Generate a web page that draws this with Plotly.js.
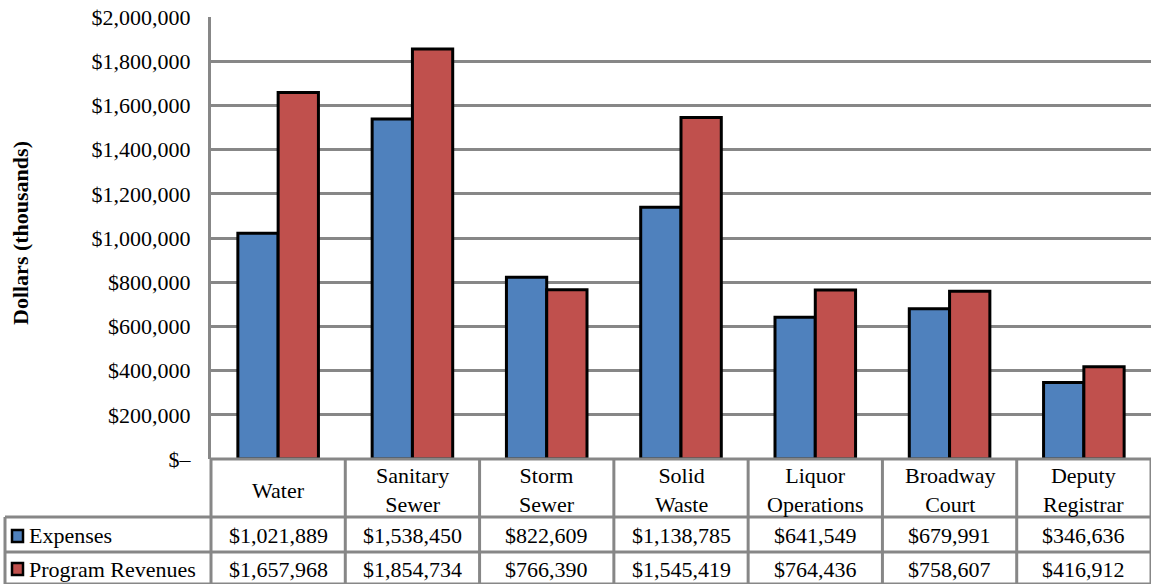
<!DOCTYPE html>
<html><head><meta charset="utf-8"><script src="https://cdn.plot.ly/plotly-3.0.1.min.js"></script>
<style>#plotdiv text, #plotdiv tspan { font-family: 'Liberation Serif', 'Times New Roman', serif !important; }</style>
</head>
<body style="margin:0">
<div id="plotdiv" style="width:1151px;height:584px"></div>
<script>
const categories = ['Water', 'Sanitary Sewer', 'Storm Sewer', 'Solid Waste', 'Liquor Operations', 'Broadway Court', 'Deputy Registrar'];
const categoryLabels = ['Water', 'Sanitary<br>Sewer', 'Storm<br>Sewer', 'Solid<br>Waste', 'Liquor<br>Operations', 'Broadway<br>Court', 'Deputy<br>Registrar'];
const seriesNames = ['Expenses', 'Program Revenues'];
const expenses = [1021889, 1538450, 822609, 1138785, 641549, 679991, 346636];
const revenues = [1657968, 1854734, 766390, 1545419, 764436, 758607, 416912];
const tickVals = [0, 200000, 400000, 600000, 800000, 1000000, 1200000, 1400000, 1600000, 1800000, 2000000];
const tickText = ['$–', '$200,000', '$400,000', '$600,000', '$800,000', '$1,000,000', '$1,200,000', '$1,400,000', '$1,600,000', '$1,800,000', '$2,000,000'];
const seriesColors = ['#4F81BD', '#C0504D'];

(function () {
  const W = 1151, H = 584, ML = 211, MT = 17, MB = 125;
  const PW = W - ML, PH = H - MT - MB;
  const GRID = '#878787';
  const SERIF = 'Liberation Serif';
  const px = v => (v - ML) / PW;
  const py = v => (H - MB - v) / PH;
  const fmt = v => '$' + v.toLocaleString('en-US');

  const traces = [expenses, revenues].map((vals, s) => ({
    type: 'bar',
    name: seriesNames[s],
    x: categories,
    y: vals,
    marker: {color: seriesColors[s], line: {color: '#000', width: 3}}
  }));

  const shapes = [];
  const annotations = [];
  const seg = (x0, y0, x1, y1) => shapes.push({type: 'line', xref: 'paper', yref: 'paper', x0, y0, x1, y1, line: {color: GRID, width: 3}});

  seg(px(211), py(459), px(1151), py(459));
  seg(px(5), py(517), px(1151), py(517));
  seg(px(5), py(552), px(1151), py(552));
  seg(px(5), py(584), px(1151), py(584));
  seg(px(5), py(517), px(5), py(584));
  seg(px(211), py(459), px(211), py(584));
  for (let k = 1; k <= categories.length; k++) {
    seg(k / categories.length, py(459), k / categories.length, py(584));
  }

  const rowY = [py(490), py(535), py(569)];
  categories.forEach((c, i) => {
    annotations.push({xref: 'x', yref: 'paper', x: c, y: rowY[0], text: categoryLabels[i], showarrow: false, xanchor: 'center', yanchor: 'middle', font: {family: SERIF, size: 22, color: '#000'}});
    annotations.push({xref: 'x', yref: 'paper', x: c, y: rowY[1], text: fmt(expenses[i]), showarrow: false, xanchor: 'center', yanchor: 'middle', font: {family: SERIF, size: 22, color: '#000'}});
    annotations.push({xref: 'x', yref: 'paper', x: c, y: rowY[2], text: fmt(revenues[i]), showarrow: false, xanchor: 'center', yanchor: 'middle', font: {family: SERIF, size: 22, color: '#000'}});
  });

  seriesNames.forEach((n, s) => {
    const cy = [536, 569][s];
    shapes.push({type: 'rect', xref: 'paper', yref: 'paper', x0: px(12), x1: px(23), y0: py(cy - 6), y1: py(cy + 6), fillcolor: seriesColors[s], line: {color: '#000', width: 2.5}});
    annotations.push({xref: 'paper', yref: 'paper', x: px(27), y: rowY[s + 1], text: n, showarrow: false, xanchor: 'left', yanchor: 'middle', font: {family: SERIF, size: 22, color: '#000'}});
  });

  annotations.push({xref: 'paper', yref: 'paper', x: px(20), y: py(233), text: '<b>Dollars (thousands)</b>', textangle: -90, showarrow: false, xanchor: 'center', yanchor: 'middle', font: {family: SERIF, size: 22, color: '#000'}});

  const layout = {
    width: W, height: H,
    margin: {l: ML, r: 0, t: MT, b: MB, pad: 0},
    paper_bgcolor: '#fff', plot_bgcolor: '#fff',
    showlegend: false,
    barmode: 'group',
    bargap: 0.4, bargroupgap: 0,
    font: {family: SERIF, size: 22, color: '#000'},
    xaxis: {type: 'category', range: [-0.5, categories.length - 0.5], showticklabels: false, showgrid: false, zeroline: false, showline: false, ticks: ''},
    yaxis: {range: [0, 2000000], tickvals: tickVals, ticktext: tickText, showgrid: true, gridcolor: GRID, gridwidth: 3, zeroline: false, showline: true, linecolor: GRID, linewidth: 3, ticks: '', ticklabelstandoff: 13, tickfont: {family: SERIF, size: 22, color: '#000'}},
    shapes: shapes, annotations: annotations
  };

  Plotly.newPlot('plotdiv', traces, layout, {displayModeBar: false});
})();
</script>
</body></html>
